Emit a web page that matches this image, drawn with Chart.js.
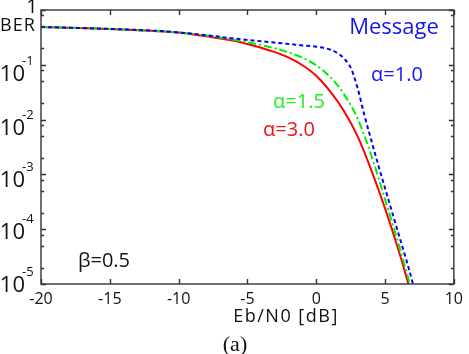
<!DOCTYPE html>
<html>
<head>
<meta charset="utf-8">
<script src="https://cdn.jsdelivr.net/npm/chart.js@4.4.1/dist/chart.umd.min.js"></script>
<style>
  html, body { margin: 0; padding: 0; background: #fff; }
  #wrap { width: 469px; height: 354px; }
</style>
</head>
<body>
<div id="wrap"><canvas id="berChart" width="469" height="354"></canvas></div>
<script>
// Eb/N0 [dB] と BER
const ebn0Alpha10 = [-20, -16, -12, -10, -8, -6, -4, -2, -1, 0, 1, 1.5, 2, 2.5, 3, 3.5, 4, 4.5, 5, 5.5, 6, 6.5, 7, 7.05];
const berAlpha10  = [0.49, 0.46, 0.422, 0.389, 0.347, 0.302, 0.269, 0.24, 0.226, 0.214, 0.19, 0.166, 0.132, 0.089, 0.038, 0.012, 0.0042, 0.0015, 5.6e-4, 2.1e-4, 7.9e-5, 3.0e-5, 1.07e-5, 9.5e-6];

const ebn0Alpha15 = [-20, -16, -12, -10, -8, -6, -5, -4, -3, -2, -1, 0, 1, 2, 3, 4, 5, 6, 6.8];
const berAlpha15  = [0.49, 0.46, 0.417, 0.389, 0.343, 0.285, 0.257, 0.229, 0.2, 0.168, 0.135, 0.0977, 0.0603, 0.0295, 0.0105, 0.00224, 3.5e-4, 5.2e-5, 1.0e-5];

const ebn0Alpha30 = [-20, -16, -12, -10, -8, -6, -5, -4, -3, -2, -1, 0, 1, 2, 3, 4, 5, 6, 6.7];
const berAlpha30  = [0.49, 0.46, 0.417, 0.389, 0.331, 0.275, 0.24, 0.204, 0.17, 0.135, 0.098, 0.063, 0.0331, 0.0145, 0.005, 0.0012, 2.4e-4, 4.0e-5, 1.0e-5];

const xTicks = [-20, -15, -10, -5, 0, 5, 10];
const yExponents = [0, -1, -2, -3, -4, -5];
const yMinorFactors = [2, 5, 8];

const toPoints = (xs, ys) => xs.map((v, i) => ({ x: v, y: ys[i] }));

const FONT = '"Open Sans", "DejaVu Sans", sans-serif';
const AXIS_COLOR = '#333333';
// 縦軸ラベルの上下ずれ (元図に合わせる)
const yLabelShift = { '-1': 8.5, '-2': 7, '-3': 5, '-4': 2, '-5': 0 };

// 枠, 内向き目盛り, 文字
const decorations = {
    id: 'decorations',
    afterDraw(chart) {
        const { ctx, chartArea: a, scales: { x, y } } = chart;
        ctx.save();
        ctx.strokeStyle = AXIS_COLOR;
        ctx.lineWidth = 1.4;
        ctx.strokeRect(a.left, a.top, a.right - a.left, a.bottom - a.top);

        ctx.beginPath();
        xTicks.forEach(v => {
            const px = Math.round(x.getPixelForValue(v)) + 0.5;
            ctx.moveTo(px, a.bottom); ctx.lineTo(px, a.bottom - 5);
            ctx.moveTo(px, a.top); ctx.lineTo(px, a.top + 5);
        });
        yExponents.forEach(e => {
            const py = Math.round(y.getPixelForValue(Math.pow(10, e))) + 0.5;
            ctx.moveTo(a.left, py); ctx.lineTo(a.left + 5, py);
            ctx.moveTo(a.right, py); ctx.lineTo(a.right - 5, py);
            if (e > -5) {
                yMinorFactors.forEach(f => {
                    const pm = Math.round(y.getPixelForValue(f * Math.pow(10, e - 1))) + 0.5;
                    ctx.moveTo(a.left, pm); ctx.lineTo(a.left + 3, pm);
                    ctx.moveTo(a.right, pm); ctx.lineTo(a.right - 3, pm);
                });
            }
        });
        ctx.stroke();

        // y 目盛りラベル
        ctx.fillStyle = '#111';
        yExponents.forEach(e => {
            const py = y.getPixelForValue(Math.pow(10, e));
            if (e === 0) {
                ctx.font = '20px ' + FONT;
                ctx.textAlign = 'center';
                ctx.textBaseline = 'middle';
                ctx.fillText('1', 32, py - 3);
                return;
            }
            const c = py + yLabelShift[String(e)];
            ctx.font = '22px ' + FONT;
            ctx.textAlign = 'right';
            ctx.textBaseline = 'alphabetic';
            ctx.fillText('10', 25, c + 8);
            ctx.font = '13px ' + FONT;
            ctx.textAlign = 'left';
            ctx.fillText(String(e), 22, c - 8);
        });

        // BER
        ctx.font = '18px ' + FONT;
        ctx.letterSpacing = '1px';
        ctx.textAlign = 'left';
        ctx.textBaseline = 'middle';
        ctx.fillText('BER', 0, 26);

        // 横軸タイトル
        ctx.font = '18px ' + FONT;
        ctx.letterSpacing = '1.5px';
        ctx.textAlign = 'center';
        ctx.fillText('Eb/N0 [dB]', 286, 317);
        ctx.letterSpacing = '0px';

        ctx.font = '22px "Liberation Serif", serif';
        ctx.fillText('(a)', 235, 345);

        // 注記
        ctx.font = '22px ' + FONT;
        ctx.fillStyle = '#1515f0';
        ctx.fillText('Message', 394, 28);
        ctx.font = '20px ' + FONT;
        ctx.fillText('\u03b1=1.0', 397, 75);
        ctx.fillStyle = '#22ee22';
        ctx.fillText('\u03b1=1.5', 299, 102);
        ctx.fillStyle = '#ee1111';
        ctx.fillText('\u03b1=3.0', 289, 130);
        ctx.fillStyle = '#111';
        ctx.fillText('\u03b2=0.5', 104, 261);
        ctx.restore();
    }
};

new Chart(document.getElementById('berChart'), {
    type: 'scatter',
    data: {
        datasets: [
            {
                label: '\u03b1=1.0',
                data: toPoints(ebn0Alpha10, berAlpha10),
                showLine: true,
                borderColor: '#0000ff',
                borderWidth: 2,
                borderDash: [4, 3],
                pointRadius: 0,
                cubicInterpolationMode: 'monotone'
            },
            {
                label: '\u03b1=1.5',
                data: toPoints(ebn0Alpha15, berAlpha15),
                showLine: true,
                borderColor: '#00ee00',
                borderWidth: 2,
                borderDash: [8, 3, 2, 3],
                pointRadius: 0,
                cubicInterpolationMode: 'monotone'
            },
            {
                label: '\u03b1=3.0',
                data: toPoints(ebn0Alpha30, berAlpha30),
                showLine: true,
                borderColor: '#ff0000',
                borderWidth: 2,
                pointRadius: 0,
                cubicInterpolationMode: 'monotone'
            }
        ]
    },
    options: {
        responsive: false,
        animation: false,
        layout: { padding: { top: 10, right: 11, left: 0, bottom: 0 } },
        plugins: { legend: { display: false }, tooltip: { enabled: false } },
        scales: {
            x: {
                type: 'linear',
                min: -20,
                max: 10,
                afterBuildTicks: s => { s.ticks = xTicks.map(v => ({ value: v })); },
                afterFit: s => { s.height = 70; },
                grid: { display: false, drawTicks: false },
                border: { display: false },
                ticks: {
                    padding: 6,
                    color: '#111',
                    font: { family: FONT, size: 16 },
                    maxRotation: 0
                }
            },
            y: {
                type: 'logarithmic',
                min: 1e-5,
                max: 1,
                afterFit: s => { s.width = 41; },
                grid: { display: false, drawTicks: false },
                border: { display: false },
                ticks: { display: false }
            }
        }
    },
    plugins: [decorations]
});
</script>
</body>
</html>
